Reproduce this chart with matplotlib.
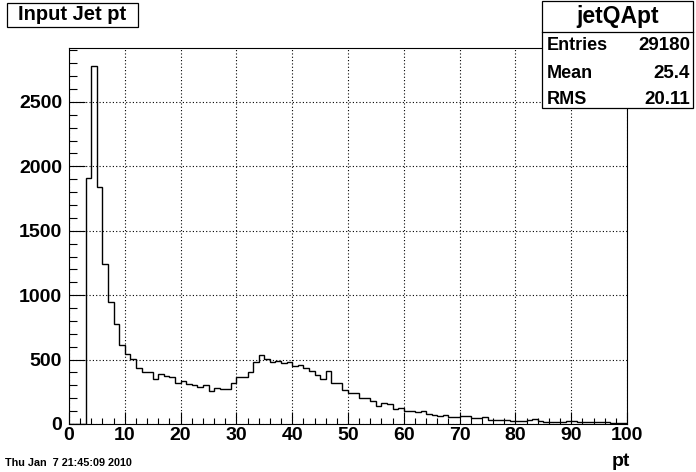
import matplotlib
matplotlib.use("Agg")
import matplotlib.pyplot as plt
from matplotlib.patches import Rectangle
from matplotlib.lines import Line2D
from matplotlib.ticker import MultipleLocator
import numpy as np

# histogram jetQApt, 100 bins from 0 to 100 (counts)
counts = [0, 0, 0, 1910, 2780, 1842, 1244, 947, 779, 616,
          541, 501, 434, 400, 407, 347, 388, 370, 361, 322,
          333, 307, 302, 289, 299, 253, 276, 268, 268, 315,
          361, 361, 402, 480, 532, 503, 482, 488, 472, 480,
          451, 459, 431, 413, 379, 348, 408, 315, 315, 261,
          240, 240, 199, 199, 176, 137, 160, 152, 114, 121,
          101, 101, 93, 101, 77, 70, 65, 70, 54, 54,
          65, 62, 49, 49, 54, 28, 34, 28, 28, 23,
          23, 23, 28, 36, 23, 18, 18, 18, 18, 23,
          23, 13, 13, 13, 13, 13, 13, 8, 8, 8]
edges = np.linspace(0, 100, 101)

hist_name = "jetQApt"
title = "Input Jet pt"
stat_names = ["Entries", "Mean", "RMS"]
stat_values = ["29180", "25.4", "20.11"]
x_label = "pt"
date_str = "Thu Jan  7 21:45:09 2010"

plt.rcParams['font.family'] = ['Liberation Sans', 'DejaVu Sans']
plt.rcParams['font.weight'] = 'bold'

W, H = 696, 472
fig = plt.figure(figsize=(W / 100, H / 100), dpi=100)
fig.patch.set_facecolor('white')

ax = fig.add_axes([69 / W, 1 - 424 / H, 558 / W, (424 - 48) / H])
ax.stairs(counts, edges, baseline=0, color='black', lw=1.0)

ax.set_xlim(0, 100)
ax.set_ylim(0, 1.05 * max(counts))
ax.xaxis.set_major_locator(MultipleLocator(10))
ax.xaxis.set_minor_locator(MultipleLocator(2))
ax.yaxis.set_major_locator(MultipleLocator(500))
ax.yaxis.set_minor_locator(MultipleLocator(100))
ax.grid(True, which='major', color='black', ls=(0, (1, 2)), lw=0.8)
ax.set_axisbelow(True)

ax.tick_params(axis='x', which='major', direction='in', length=8.6, width=0.8,
               labelsize=14, pad=2)
ax.tick_params(axis='x', which='minor', direction='in', length=4.3, width=0.8)
ax.tick_params(axis='y', which='major', direction='in', length=11.5, width=0.8,
               labelsize=14, pad=5)
ax.tick_params(axis='y', which='minor', direction='in', length=5.8, width=0.8)
for lab in ax.get_xticklabels() + ax.get_yticklabels():
    lab.set_fontweight('bold')
for s in ax.spines.values():
    s.set_linewidth(0.8)


def fx(px):
    return px / W


def fy(py):
    return 1 - py / H


# title box
fig.patches.append(Rectangle((fx(7), fy(27)), fx(138) - fx(7), fy(3) - fy(27),
                             transform=fig.transFigure, fill=True, fc='white',
                             ec='black', lw=0.9))
fig.text(fx(72.5), fy(15), title, ha='center', va='center', fontsize=14.5,
         fontweight='bold')

# stats box
fig.patches.append(Rectangle((fx(542), fy(108)), fx(693) - fx(542), fy(1) - fy(108),
                             transform=fig.transFigure, fill=True, fc='white',
                             ec='black', lw=0.9, zorder=5))
fig.lines.append(Line2D([fx(542), fx(693)], [fy(32), fy(32)],
                        transform=fig.transFigure, color='black', lw=0.9, zorder=6))
fig.text(fx(617.5), fy(16), hist_name, ha='center', va='center', fontsize=16.5,
         fontweight='bold', zorder=7)
rows_y = [46, 73, 100]
for name, val, yy in zip(stat_names, stat_values, rows_y):
    fig.text(fx(547), fy(yy), name, ha='left', va='center', fontsize=13,
             fontweight='bold', zorder=7)
    fig.text(fx(690), fy(yy), val, ha='right', va='center', fontsize=13.5,
             fontweight='bold', zorder=7)

fig.text(fx(630), fy(461), x_label, ha='right', va='center', fontsize=14,
         fontweight='bold')
fig.text(fx(5), fy(463), date_str, ha='left', va='center', fontsize=7.8,
         fontweight='bold')

fig.savefig("out.png", dpi=100)
